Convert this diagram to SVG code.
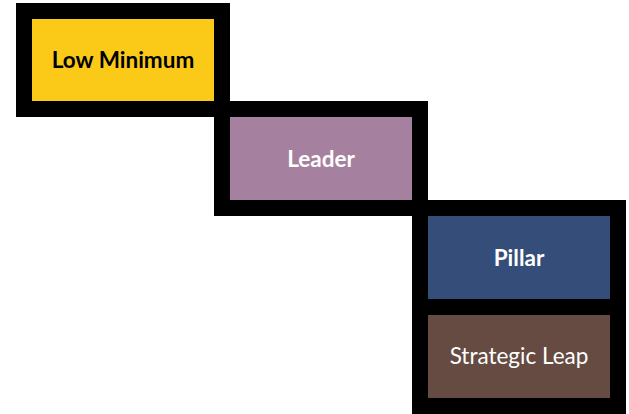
<svg xmlns="http://www.w3.org/2000/svg" width="629" height="414" viewBox="0 0 629 414">
<style>
.box{stroke:#000;stroke-width:16}
.t{font-family:Lato,"Open Sans","Liberation Sans",sans-serif;font-size:22.5px;text-anchor:middle}
.b{font-weight:bold}
</style>
<rect width="629" height="414" fill="#fff"/>
<g id="low-minimum">
<rect class="box" x="24" y="11" width="198" height="98" fill="#FBC918"/>
<text class="t b" x="123" y="68" fill="#000">Low Minimum</text>
</g>
<g id="leader">
<rect class="box" x="222" y="109" width="198" height="99" fill="#A6819F"/>
<text class="t b" x="321" y="167" fill="#fff">Leader</text>
</g>
<g id="pillar">
<rect class="box" x="420" y="208" width="198" height="99" fill="#344E79"/>
<text class="t b" x="519" y="266" fill="#fff">Pillar</text>
</g>
<g id="strategic-leap">
<rect class="box" x="420" y="307" width="198" height="99" fill="#654B41"/>
<text class="t" x="519" y="364" fill="#fff">Strategic Leap</text>
</g>
<g id="connectors"/>
</svg>
